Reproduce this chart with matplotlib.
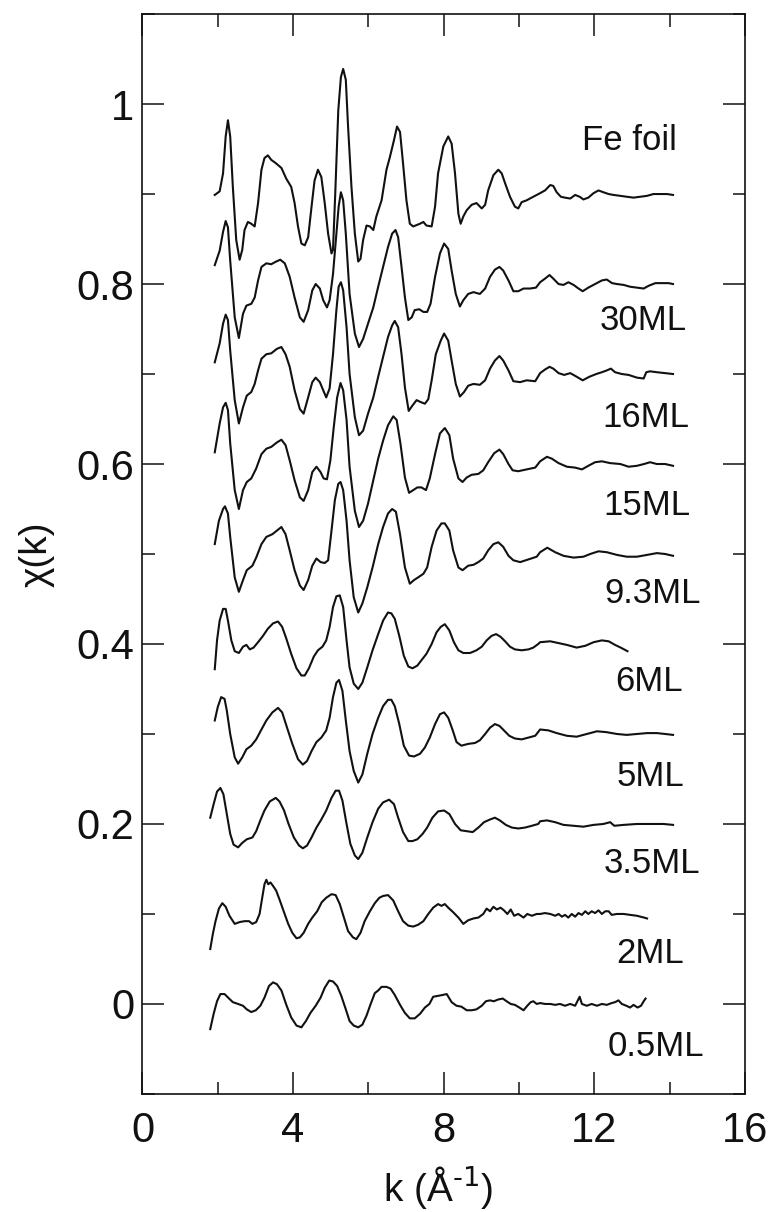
import numpy as np
import matplotlib
matplotlib.use('Agg')
import matplotlib.pyplot as plt
from matplotlib.ticker import MultipleLocator, FuncFormatter

plt.rcParams['font.family'] = ['Liberation Sans', 'DejaVu Sans']
plt.rcParams['mathtext.default'] = 'regular'

# (k, chi) points, curves already offset by 0.1 each
fe_foil = [(1.92, 0.899), (2.05, 0.903), (2.14, 0.923), (2.21, 0.964), (2.27, 0.982), (2.33, 0.964),
           (2.40, 0.908), (2.49, 0.849), (2.58, 0.827), (2.65, 0.838), (2.71, 0.860), (2.80, 0.869),
           (2.89, 0.867), (2.98, 0.864), (3.07, 0.890), (3.16, 0.927), (3.24, 0.940), (3.33, 0.943),
           (3.42, 0.938), (3.55, 0.934), (3.69, 0.929), (3.82, 0.917), (3.95, 0.908), (4.04, 0.890),
           (4.13, 0.864), (4.22, 0.845), (4.31, 0.843), (4.40, 0.852), (4.49, 0.886), (4.57, 0.915),
           (4.66, 0.927), (4.75, 0.919), (4.84, 0.890), (4.93, 0.856), (5.02, 0.834), (5.06, 0.838),
           (5.12, 0.901), (5.20, 0.993), (5.27, 1.030), (5.33, 1.039), (5.40, 1.027), (5.46, 0.975),
           (5.55, 0.908), (5.64, 0.856), (5.73, 0.825), (5.79, 0.828), (5.86, 0.849), (5.95, 0.865),
           (6.04, 0.864), (6.13, 0.860), (6.21, 0.875), (6.35, 0.893), (6.48, 0.927), (6.57, 0.941),
           (6.68, 0.960), (6.76, 0.975), (6.84, 0.969), (6.92, 0.934), (7.01, 0.893), (7.10, 0.867),
           (7.19, 0.864), (7.37, 0.867), (7.46, 0.869), (7.54, 0.865), (7.68, 0.864), (7.77, 0.886),
           (7.85, 0.923), (7.99, 0.953), (8.12, 0.964), (8.21, 0.956), (8.30, 0.923), (8.39, 0.878),
           (8.45, 0.867), (8.52, 0.875), (8.61, 0.882), (8.74, 0.888), (8.87, 0.890), (9.01, 0.884),
           (9.10, 0.888), (9.18, 0.904), (9.32, 0.921), (9.45, 0.927), (9.54, 0.923), (9.63, 0.912),
           (9.76, 0.897), (9.89, 0.886), (9.98, 0.884), (10.07, 0.891), (10.20, 0.893), (10.38, 0.897),
           (10.56, 0.901), (10.69, 0.904), (10.83, 0.910), (10.91, 0.909), (11.00, 0.902), (11.11, 0.897),
           (11.22, 0.896), (11.36, 0.895), (11.49, 0.899), (11.61, 0.897), (11.71, 0.894), (11.84, 0.896),
           (11.98, 0.901), (12.11, 0.904), (12.24, 0.902), (12.38, 0.900), (12.51, 0.899), (12.69, 0.898),
           (12.86, 0.897), (13.04, 0.896), (13.22, 0.897), (13.40, 0.898), (13.57, 0.900), (13.75, 0.900),
           (13.93, 0.900), (14.09, 0.899)]

ml30 = [(1.92, 0.821), (2.05, 0.837), (2.14, 0.858), (2.21, 0.870), (2.27, 0.863), (2.33, 0.826),
        (2.45, 0.763), (2.56, 0.740), (2.67, 0.767), (2.76, 0.776), (2.89, 0.778), (2.98, 0.785),
        (3.07, 0.804), (3.16, 0.819), (3.29, 0.823), (3.42, 0.822), (3.55, 0.825), (3.66, 0.827),
        (3.78, 0.823), (3.91, 0.808), (4.04, 0.785), (4.18, 0.763), (4.28, 0.758), (4.40, 0.771),
        (4.51, 0.793), (4.60, 0.800), (4.71, 0.795), (4.80, 0.782), (4.90, 0.774), (4.97, 0.782),
        (5.06, 0.811), (5.15, 0.856), (5.21, 0.886), (5.27, 0.902), (5.33, 0.893), (5.40, 0.856),
        (5.50, 0.789), (5.64, 0.745), (5.75, 0.730), (5.86, 0.739), (5.99, 0.756), (6.13, 0.774),
        (6.26, 0.797), (6.39, 0.819), (6.52, 0.841), (6.63, 0.856), (6.72, 0.860), (6.79, 0.852),
        (6.88, 0.819), (6.97, 0.785), (7.06, 0.760), (7.15, 0.763), (7.23, 0.771), (7.35, 0.772),
        (7.46, 0.769), (7.56, 0.769), (7.65, 0.778), (7.77, 0.808), (7.90, 0.834), (8.01, 0.845),
        (8.12, 0.839), (8.21, 0.815), (8.32, 0.789), (8.43, 0.775), (8.52, 0.782), (8.65, 0.789),
        (8.79, 0.791), (8.96, 0.789), (9.10, 0.795), (9.23, 0.808), (9.36, 0.816), (9.48, 0.819),
        (9.58, 0.815), (9.72, 0.804), (9.85, 0.792), (9.98, 0.792), (10.12, 0.795), (10.29, 0.795),
        (10.45, 0.796), (10.56, 0.802), (10.69, 0.806), (10.81, 0.810), (10.91, 0.806), (11.05, 0.800),
        (11.18, 0.799), (11.31, 0.802), (11.45, 0.799), (11.58, 0.795), (11.69, 0.792), (11.84, 0.796),
        (12.02, 0.800), (12.20, 0.804), (12.33, 0.805), (12.47, 0.801), (12.60, 0.800), (12.78, 0.799),
        (12.95, 0.797), (13.13, 0.796), (13.31, 0.795), (13.44, 0.798), (13.62, 0.801), (13.80, 0.801),
        (13.97, 0.801), (14.09, 0.800)]

ml16 = [(1.92, 0.713), (2.05, 0.734), (2.14, 0.756), (2.21, 0.766), (2.27, 0.760), (2.33, 0.726),
        (2.45, 0.671), (2.56, 0.645), (2.67, 0.663), (2.77, 0.676), (2.89, 0.680), (2.98, 0.689),
        (3.07, 0.704), (3.16, 0.717), (3.29, 0.722), (3.42, 0.723), (3.57, 0.728), (3.69, 0.730),
        (3.80, 0.722), (3.91, 0.708), (4.04, 0.682), (4.18, 0.661), (4.28, 0.656), (4.40, 0.674),
        (4.51, 0.691), (4.60, 0.696), (4.71, 0.691), (4.80, 0.682), (4.88, 0.674), (4.97, 0.684),
        (5.06, 0.722), (5.15, 0.771), (5.21, 0.797), (5.27, 0.802), (5.33, 0.793), (5.42, 0.752),
        (5.50, 0.700), (5.64, 0.652), (5.75, 0.632), (5.86, 0.637), (5.99, 0.656), (6.13, 0.674),
        (6.26, 0.697), (6.39, 0.719), (6.52, 0.741), (6.63, 0.754), (6.70, 0.759), (6.79, 0.752),
        (6.88, 0.722), (6.97, 0.685), (7.07, 0.659), (7.17, 0.665), (7.28, 0.671), (7.38, 0.669),
        (7.50, 0.667), (7.59, 0.672), (7.68, 0.693), (7.79, 0.722), (7.92, 0.737), (8.01, 0.745),
        (8.12, 0.737), (8.21, 0.715), (8.32, 0.689), (8.43, 0.675), (8.54, 0.680), (8.65, 0.687),
        (8.79, 0.689), (8.96, 0.688), (9.10, 0.693), (9.23, 0.706), (9.36, 0.715), (9.48, 0.720),
        (9.58, 0.715), (9.72, 0.704), (9.85, 0.692), (10.03, 0.691), (10.20, 0.693), (10.43, 0.692),
        (10.56, 0.701), (10.69, 0.705), (10.81, 0.708), (10.91, 0.706), (11.05, 0.701), (11.20, 0.699),
        (11.36, 0.701), (11.53, 0.697), (11.69, 0.693), (11.87, 0.697), (12.05, 0.700), (12.20, 0.702),
        (12.33, 0.704), (12.44, 0.706), (12.55, 0.702), (12.73, 0.700), (12.91, 0.699), (13.13, 0.696),
        (13.31, 0.695), (13.38, 0.702), (13.48, 0.703), (13.66, 0.702), (13.88, 0.701), (14.09, 0.700)]

ml15 = [(1.92, 0.613), (2.05, 0.645), (2.14, 0.663), (2.21, 0.668), (2.27, 0.660), (2.33, 0.623),
        (2.45, 0.571), (2.56, 0.550), (2.67, 0.571), (2.77, 0.580), (2.89, 0.584), (3.02, 0.595),
        (3.16, 0.611), (3.29, 0.617), (3.42, 0.619), (3.57, 0.624), (3.69, 0.627), (3.80, 0.621),
        (3.91, 0.604), (4.04, 0.582), (4.18, 0.563), (4.28, 0.559), (4.40, 0.571), (4.51, 0.591),
        (4.62, 0.597), (4.73, 0.591), (4.81, 0.584), (4.90, 0.583), (4.99, 0.604), (5.08, 0.641),
        (5.17, 0.674), (5.26, 0.690), (5.33, 0.682), (5.42, 0.649), (5.50, 0.597), (5.64, 0.548),
        (5.75, 0.530), (5.86, 0.537), (5.99, 0.556), (6.13, 0.582), (6.26, 0.606), (6.39, 0.626),
        (6.52, 0.643), (6.66, 0.653), (6.75, 0.649), (6.85, 0.623), (6.97, 0.585), (7.08, 0.568),
        (7.19, 0.571), (7.30, 0.574), (7.41, 0.574), (7.53, 0.571), (7.63, 0.584), (7.77, 0.611),
        (7.90, 0.634), (8.03, 0.640), (8.15, 0.632), (8.25, 0.606), (8.39, 0.584), (8.50, 0.580),
        (8.61, 0.585), (8.74, 0.588), (8.92, 0.589), (9.05, 0.593), (9.18, 0.602), (9.34, 0.612),
        (9.48, 0.616), (9.58, 0.611), (9.72, 0.600), (9.83, 0.593), (9.98, 0.592), (10.20, 0.594),
        (10.43, 0.596), (10.56, 0.603), (10.74, 0.608), (10.87, 0.606), (11.05, 0.601), (11.27, 0.597),
        (11.49, 0.596), (11.67, 0.594), (11.84, 0.598), (12.02, 0.602), (12.20, 0.603), (12.42, 0.601),
        (12.69, 0.600), (12.91, 0.597), (13.13, 0.598), (13.32, 0.600), (13.48, 0.602), (13.66, 0.600),
        (13.88, 0.600), (14.09, 0.598)]

ml9_3 = [(1.92, 0.511), (2.03, 0.537), (2.14, 0.550), (2.19, 0.553), (2.27, 0.545), (2.33, 0.519),
         (2.45, 0.474), (2.56, 0.458), (2.67, 0.471), (2.77, 0.482), (2.92, 0.487), (3.02, 0.496),
         (3.16, 0.511), (3.29, 0.519), (3.45, 0.522), (3.57, 0.526), (3.69, 0.530), (3.80, 0.522),
         (3.91, 0.504), (4.04, 0.482), (4.18, 0.465), (4.28, 0.460), (4.40, 0.471), (4.51, 0.487),
         (4.62, 0.495), (4.73, 0.491), (4.84, 0.490), (4.93, 0.493), (5.02, 0.526), (5.11, 0.560),
         (5.20, 0.578), (5.26, 0.580), (5.33, 0.571), (5.42, 0.537), (5.50, 0.493), (5.61, 0.452),
         (5.73, 0.435), (5.84, 0.445), (5.97, 0.463), (6.11, 0.485), (6.26, 0.511), (6.39, 0.530),
         (6.52, 0.545), (6.63, 0.550), (6.73, 0.547), (6.84, 0.522), (6.97, 0.485), (7.10, 0.467),
         (7.21, 0.471), (7.32, 0.474), (7.46, 0.478), (7.56, 0.485), (7.68, 0.508), (7.81, 0.526),
         (7.94, 0.534), (8.03, 0.534), (8.15, 0.526), (8.25, 0.504), (8.39, 0.485), (8.50, 0.482),
         (8.65, 0.487), (8.79, 0.488), (8.92, 0.491), (9.05, 0.495), (9.18, 0.504), (9.32, 0.511),
         (9.45, 0.513), (9.58, 0.508), (9.72, 0.498), (9.85, 0.493), (10.03, 0.491), (10.25, 0.494),
         (10.47, 0.497), (10.56, 0.502), (10.75, 0.507), (10.96, 0.502), (11.18, 0.498), (11.45, 0.496),
         (11.71, 0.497), (11.89, 0.500), (12.11, 0.503), (12.33, 0.502), (12.60, 0.499), (12.86, 0.497),
         (13.13, 0.497), (13.40, 0.499), (13.66, 0.501), (13.88, 0.500), (14.09, 0.498)]

ml6 = [(1.92, 0.372), (1.98, 0.404), (2.05, 0.426), (2.14, 0.439), (2.21, 0.439), (2.27, 0.426),
       (2.36, 0.404), (2.45, 0.392), (2.56, 0.390), (2.67, 0.397), (2.76, 0.399), (2.85, 0.394),
       (2.95, 0.396), (3.07, 0.402), (3.20, 0.409), (3.33, 0.417), (3.47, 0.423), (3.60, 0.425),
       (3.71, 0.419), (3.82, 0.406), (3.95, 0.389), (4.09, 0.373), (4.22, 0.365), (4.31, 0.365),
       (4.42, 0.373), (4.55, 0.386), (4.66, 0.393), (4.78, 0.397), (4.88, 0.404), (4.97, 0.419),
       (5.06, 0.441), (5.15, 0.453), (5.24, 0.454), (5.33, 0.441), (5.42, 0.404), (5.50, 0.374),
       (5.61, 0.356), (5.73, 0.350), (5.84, 0.357), (5.97, 0.374), (6.11, 0.393), (6.26, 0.411),
       (6.39, 0.426), (6.52, 0.435), (6.61, 0.434), (6.70, 0.428), (6.82, 0.409), (6.94, 0.387),
       (7.06, 0.375), (7.17, 0.373), (7.30, 0.376), (7.41, 0.382), (7.54, 0.389), (7.68, 0.400),
       (7.81, 0.413), (7.92, 0.419), (8.03, 0.422), (8.15, 0.415), (8.27, 0.402), (8.39, 0.393),
       (8.52, 0.390), (8.70, 0.390), (8.87, 0.393), (9.01, 0.397), (9.14, 0.404), (9.27, 0.409),
       (9.39, 0.411), (9.51, 0.408), (9.63, 0.403), (9.76, 0.397), (9.89, 0.394), (10.07, 0.393),
       (10.25, 0.394), (10.38, 0.396), (10.51, 0.400), (10.56, 0.402), (10.83, 0.403), (11.05, 0.401),
       (11.27, 0.399), (11.53, 0.396), (11.76, 0.398), (11.98, 0.402), (12.20, 0.404), (12.38, 0.403),
       (12.55, 0.399), (12.70, 0.396), (12.88, 0.392)]

ml5 = [(1.92, 0.315), (2.00, 0.330), (2.09, 0.341), (2.18, 0.339), (2.24, 0.326), (2.33, 0.300),
       (2.45, 0.274), (2.54, 0.267), (2.65, 0.274), (2.76, 0.283), (2.89, 0.287), (3.02, 0.294),
       (3.16, 0.305), (3.29, 0.315), (3.45, 0.324), (3.60, 0.329), (3.71, 0.324), (3.84, 0.307),
       (3.98, 0.289), (4.13, 0.272), (4.26, 0.266), (4.37, 0.270), (4.49, 0.281), (4.62, 0.291),
       (4.75, 0.296), (4.88, 0.304), (4.97, 0.318), (5.06, 0.341), (5.15, 0.357), (5.22, 0.360),
       (5.31, 0.348), (5.40, 0.315), (5.50, 0.281), (5.61, 0.259), (5.73, 0.246), (5.84, 0.255),
       (5.97, 0.278), (6.11, 0.300), (6.26, 0.318), (6.39, 0.331), (6.52, 0.338), (6.61, 0.338),
       (6.70, 0.331), (6.82, 0.311), (6.94, 0.287), (7.08, 0.276), (7.21, 0.275), (7.37, 0.278),
       (7.50, 0.285), (7.63, 0.296), (7.77, 0.311), (7.90, 0.322), (8.01, 0.324), (8.12, 0.318),
       (8.24, 0.304), (8.34, 0.291), (8.47, 0.287), (8.65, 0.289), (8.83, 0.290), (8.96, 0.293),
       (9.10, 0.300), (9.23, 0.307), (9.36, 0.311), (9.48, 0.309), (9.60, 0.304), (9.74, 0.298),
       (9.89, 0.295), (10.07, 0.294), (10.25, 0.296), (10.43, 0.298), (10.56, 0.305), (10.78, 0.304),
       (11.00, 0.301), (11.27, 0.298), (11.53, 0.297), (11.80, 0.300), (12.07, 0.303), (12.33, 0.302),
       (12.60, 0.300), (12.86, 0.299), (13.13, 0.300), (13.40, 0.301), (13.66, 0.301), (13.88, 0.300),
       (14.09, 0.299)]

ml3_5 = [(1.80, 0.207), (1.89, 0.222), (1.98, 0.236), (2.07, 0.240), (2.15, 0.233), (2.24, 0.211),
         (2.33, 0.189), (2.42, 0.177), (2.54, 0.174), (2.65, 0.179), (2.77, 0.183), (2.92, 0.185),
         (3.02, 0.192), (3.13, 0.204), (3.24, 0.215), (3.38, 0.225), (3.54, 0.229), (3.64, 0.225),
         (3.76, 0.215), (3.88, 0.200), (4.02, 0.185), (4.16, 0.176), (4.26, 0.173), (4.37, 0.176),
         (4.49, 0.185), (4.62, 0.196), (4.75, 0.205), (4.88, 0.215), (5.02, 0.229), (5.13, 0.237),
         (5.22, 0.237), (5.31, 0.226), (5.42, 0.200), (5.52, 0.178), (5.64, 0.165), (5.73, 0.161),
         (5.84, 0.168), (5.97, 0.185), (6.11, 0.202), (6.26, 0.217), (6.39, 0.224), (6.55, 0.227),
         (6.68, 0.222), (6.79, 0.207), (6.92, 0.191), (7.06, 0.181), (7.17, 0.181), (7.30, 0.183),
         (7.44, 0.189), (7.56, 0.196), (7.70, 0.207), (7.85, 0.214), (8.01, 0.215), (8.15, 0.211),
         (8.30, 0.200), (8.45, 0.193), (8.61, 0.192), (8.77, 0.191), (8.92, 0.196), (9.07, 0.202),
         (9.23, 0.205), (9.36, 0.207), (9.49, 0.204), (9.65, 0.199), (9.81, 0.196), (9.98, 0.195),
         (10.16, 0.196), (10.34, 0.198), (10.51, 0.200), (10.56, 0.203), (10.74, 0.204), (10.96, 0.202),
         (11.18, 0.199), (11.45, 0.198), (11.71, 0.197), (11.98, 0.199), (12.24, 0.200), (12.42, 0.202),
         (12.53, 0.198), (12.78, 0.199), (13.13, 0.200), (13.48, 0.200), (13.84, 0.200), (14.09, 0.199)]

ml2 = [(1.80, 0.061), (1.87, 0.078), (1.94, 0.092), (2.03, 0.106), (2.12, 0.112), (2.21, 0.108),
       (2.31, 0.098), (2.45, 0.089), (2.58, 0.091), (2.71, 0.092), (2.83, 0.092), (2.92, 0.089),
       (3.02, 0.091), (3.11, 0.100), (3.18, 0.118), (3.24, 0.133), (3.29, 0.138), (3.34, 0.133),
       (3.40, 0.135), (3.47, 0.131), (3.55, 0.126), (3.64, 0.116), (3.75, 0.103), (3.87, 0.089),
       (3.98, 0.079), (4.09, 0.073), (4.18, 0.074), (4.28, 0.079), (4.40, 0.089), (4.51, 0.096),
       (4.64, 0.103), (4.76, 0.113), (4.88, 0.118), (5.02, 0.122), (5.13, 0.121), (5.24, 0.111),
       (5.35, 0.096), (5.46, 0.081), (5.59, 0.074), (5.68, 0.072), (5.79, 0.079), (5.90, 0.092),
       (6.04, 0.103), (6.17, 0.112), (6.29, 0.118), (6.39, 0.120), (6.52, 0.121), (6.66, 0.115),
       (6.79, 0.103), (6.92, 0.092), (7.06, 0.087), (7.19, 0.086), (7.32, 0.088), (7.46, 0.092),
       (7.59, 0.100), (7.72, 0.107), (7.85, 0.111), (7.94, 0.109), (8.03, 0.111), (8.12, 0.107),
       (8.25, 0.102), (8.39, 0.096), (8.52, 0.089), (8.65, 0.093), (8.79, 0.095), (8.92, 0.096),
       (9.05, 0.100), (9.14, 0.106), (9.23, 0.103), (9.32, 0.108), (9.41, 0.105), (9.51, 0.107),
       (9.60, 0.104), (9.69, 0.100), (9.78, 0.105), (9.87, 0.098), (9.98, 0.100), (10.12, 0.096),
       (10.22, 0.100), (10.34, 0.098), (10.47, 0.100), (10.56, 0.100), (10.69, 0.101), (10.83, 0.100),
       (10.96, 0.098), (11.05, 0.100), (11.14, 0.097), (11.22, 0.099), (11.31, 0.096), (11.40, 0.100),
       (11.49, 0.097), (11.58, 0.101), (11.67, 0.099), (11.76, 0.103), (11.84, 0.100), (11.93, 0.103),
       (12.02, 0.101), (12.11, 0.104), (12.20, 0.100), (12.29, 0.103), (12.38, 0.103), (12.46, 0.099),
       (12.60, 0.100), (12.78, 0.100), (12.95, 0.099), (13.13, 0.098), (13.32, 0.096), (13.40, 0.095)]

ml0_5 = [(1.80, -0.028), (1.89, -0.011), (1.98, 0.003), (2.07, 0.011), (2.18, 0.011), (2.30, 0.006),
         (2.40, 0.002), (2.54, 0.000), (2.67, -0.002), (2.77, -0.006), (2.89, -0.009), (3.01, -0.007),
         (3.13, -0.002), (3.24, 0.007), (3.36, 0.020), (3.47, 0.024), (3.57, 0.022), (3.69, 0.015),
         (3.82, -0.001), (3.95, -0.015), (4.09, -0.024), (4.22, -0.026), (4.34, -0.019), (4.46, -0.010),
         (4.60, -0.002), (4.73, 0.007), (4.84, 0.018), (4.96, 0.026), (5.06, 0.025), (5.17, 0.020),
         (5.28, 0.009), (5.40, -0.006), (5.50, -0.019), (5.61, -0.024), (5.73, -0.026), (5.84, -0.023),
         (5.95, -0.013), (6.06, 0.000), (6.17, 0.012), (6.26, 0.015), (6.35, 0.019), (6.48, 0.019),
         (6.59, 0.017), (6.70, 0.010), (6.84, -0.001), (6.97, -0.010), (7.10, -0.016), (7.23, -0.016),
         (7.37, -0.011), (7.50, -0.004), (7.62, 0.000), (7.72, 0.008), (7.85, 0.009), (7.97, 0.010),
         (8.08, 0.011), (8.21, 0.002), (8.34, -0.002), (8.47, -0.003), (8.61, -0.007), (8.74, -0.007),
         (8.87, -0.006), (9.01, -0.002), (9.12, 0.003), (9.23, 0.004), (9.33, 0.003), (9.45, 0.005),
         (9.57, 0.006), (9.67, 0.003), (9.78, 0.000), (9.89, -0.001), (10.01, -0.004), (10.12, -0.007),
         (10.22, -0.002), (10.31, 0.002), (10.38, 0.003), (10.47, 0.000), (10.56, 0.001), (10.69, 0.000),
         (10.83, 0.000), (10.96, -0.001), (11.09, 0.000), (11.22, -0.002), (11.36, 0.000), (11.49, -0.002),
         (11.61, 0.008), (11.67, 0.000), (11.80, -0.002), (11.93, 0.000), (12.07, -0.002), (12.20, 0.000),
         (12.33, -0.001), (12.46, 0.001), (12.55, 0.002), (12.64, 0.004), (12.73, 0.000), (12.85, -0.002),
         (12.95, -0.004), (13.04, -0.001), (13.15, -0.004), (13.24, -0.002), (13.31, 0.003), (13.36, 0.006)]

curves = [fe_foil, ml30, ml16, ml15, ml9_3, ml6, ml5, ml3_5, ml2, ml0_5]
names = ['Fe foil', '30ML', '16ML', '15ML', '9.3ML', '6ML', '5ML', '3.5ML', '2ML', '0.5ML']

fig = plt.figure(figsize=(7.68, 12.12), dpi=100)
ax = fig.add_axes([0.1855, 0.0974, 0.7845, 0.891])

for pts in curves:
    k, chi = np.array(pts).T
    ax.plot(k, chi, color='#111111', lw=1.5, solid_joinstyle='round')

# label anchor (k, chi) at text baseline
label_pos = [(12.93, 0.949), (13.30, 0.749), (13.38, 0.641), (13.40, 0.543), (13.54, 0.446),
             (13.46, 0.348), (13.48, 0.2425), (13.54, 0.146), (13.48, 0.0456), (13.64, -0.058)]
for name, (x, y) in zip(names, label_pos):
    ax.text(x, y, name, fontsize=25, ha='center', va='baseline', color='#111111')

ax.set_xlim(0, 16)
ax.set_ylim(-0.1, 1.1)
ax.xaxis.set_major_locator(MultipleLocator(4))
ax.xaxis.set_minor_locator(MultipleLocator(2))
ax.yaxis.set_major_locator(MultipleLocator(0.2))
ax.yaxis.set_minor_locator(MultipleLocator(0.1))
ax.yaxis.set_major_formatter(FuncFormatter(lambda v, p: f'{round(v, 1):g}'))
ax.xaxis.set_major_formatter(FuncFormatter(lambda v, p: f'{v:g}'))

ax.tick_params(which='both', direction='in', top=True, right=True, width=1.1, color='#111111',
               labelsize=30, labelcolor='#111111')
ax.tick_params(which='major', length=16)
ax.tick_params(which='minor', length=9)
ax.tick_params(axis='x', pad=12)
ax.tick_params(axis='y', pad=6)
for s in ax.spines.values():
    s.set_linewidth(1.2)
    s.set_color('#111111')

ax.set_xlabel(r'k (Å$^{\text{-1}}$)', fontsize=28, color='#111111')
ax.xaxis.set_label_coords(0.49, -0.065)
ax.set_ylabel('χ(k)', fontsize=28, color='#111111')
ax.yaxis.set_label_coords(-0.146, 0.5)

fig.savefig('out.png', dpi=100)
